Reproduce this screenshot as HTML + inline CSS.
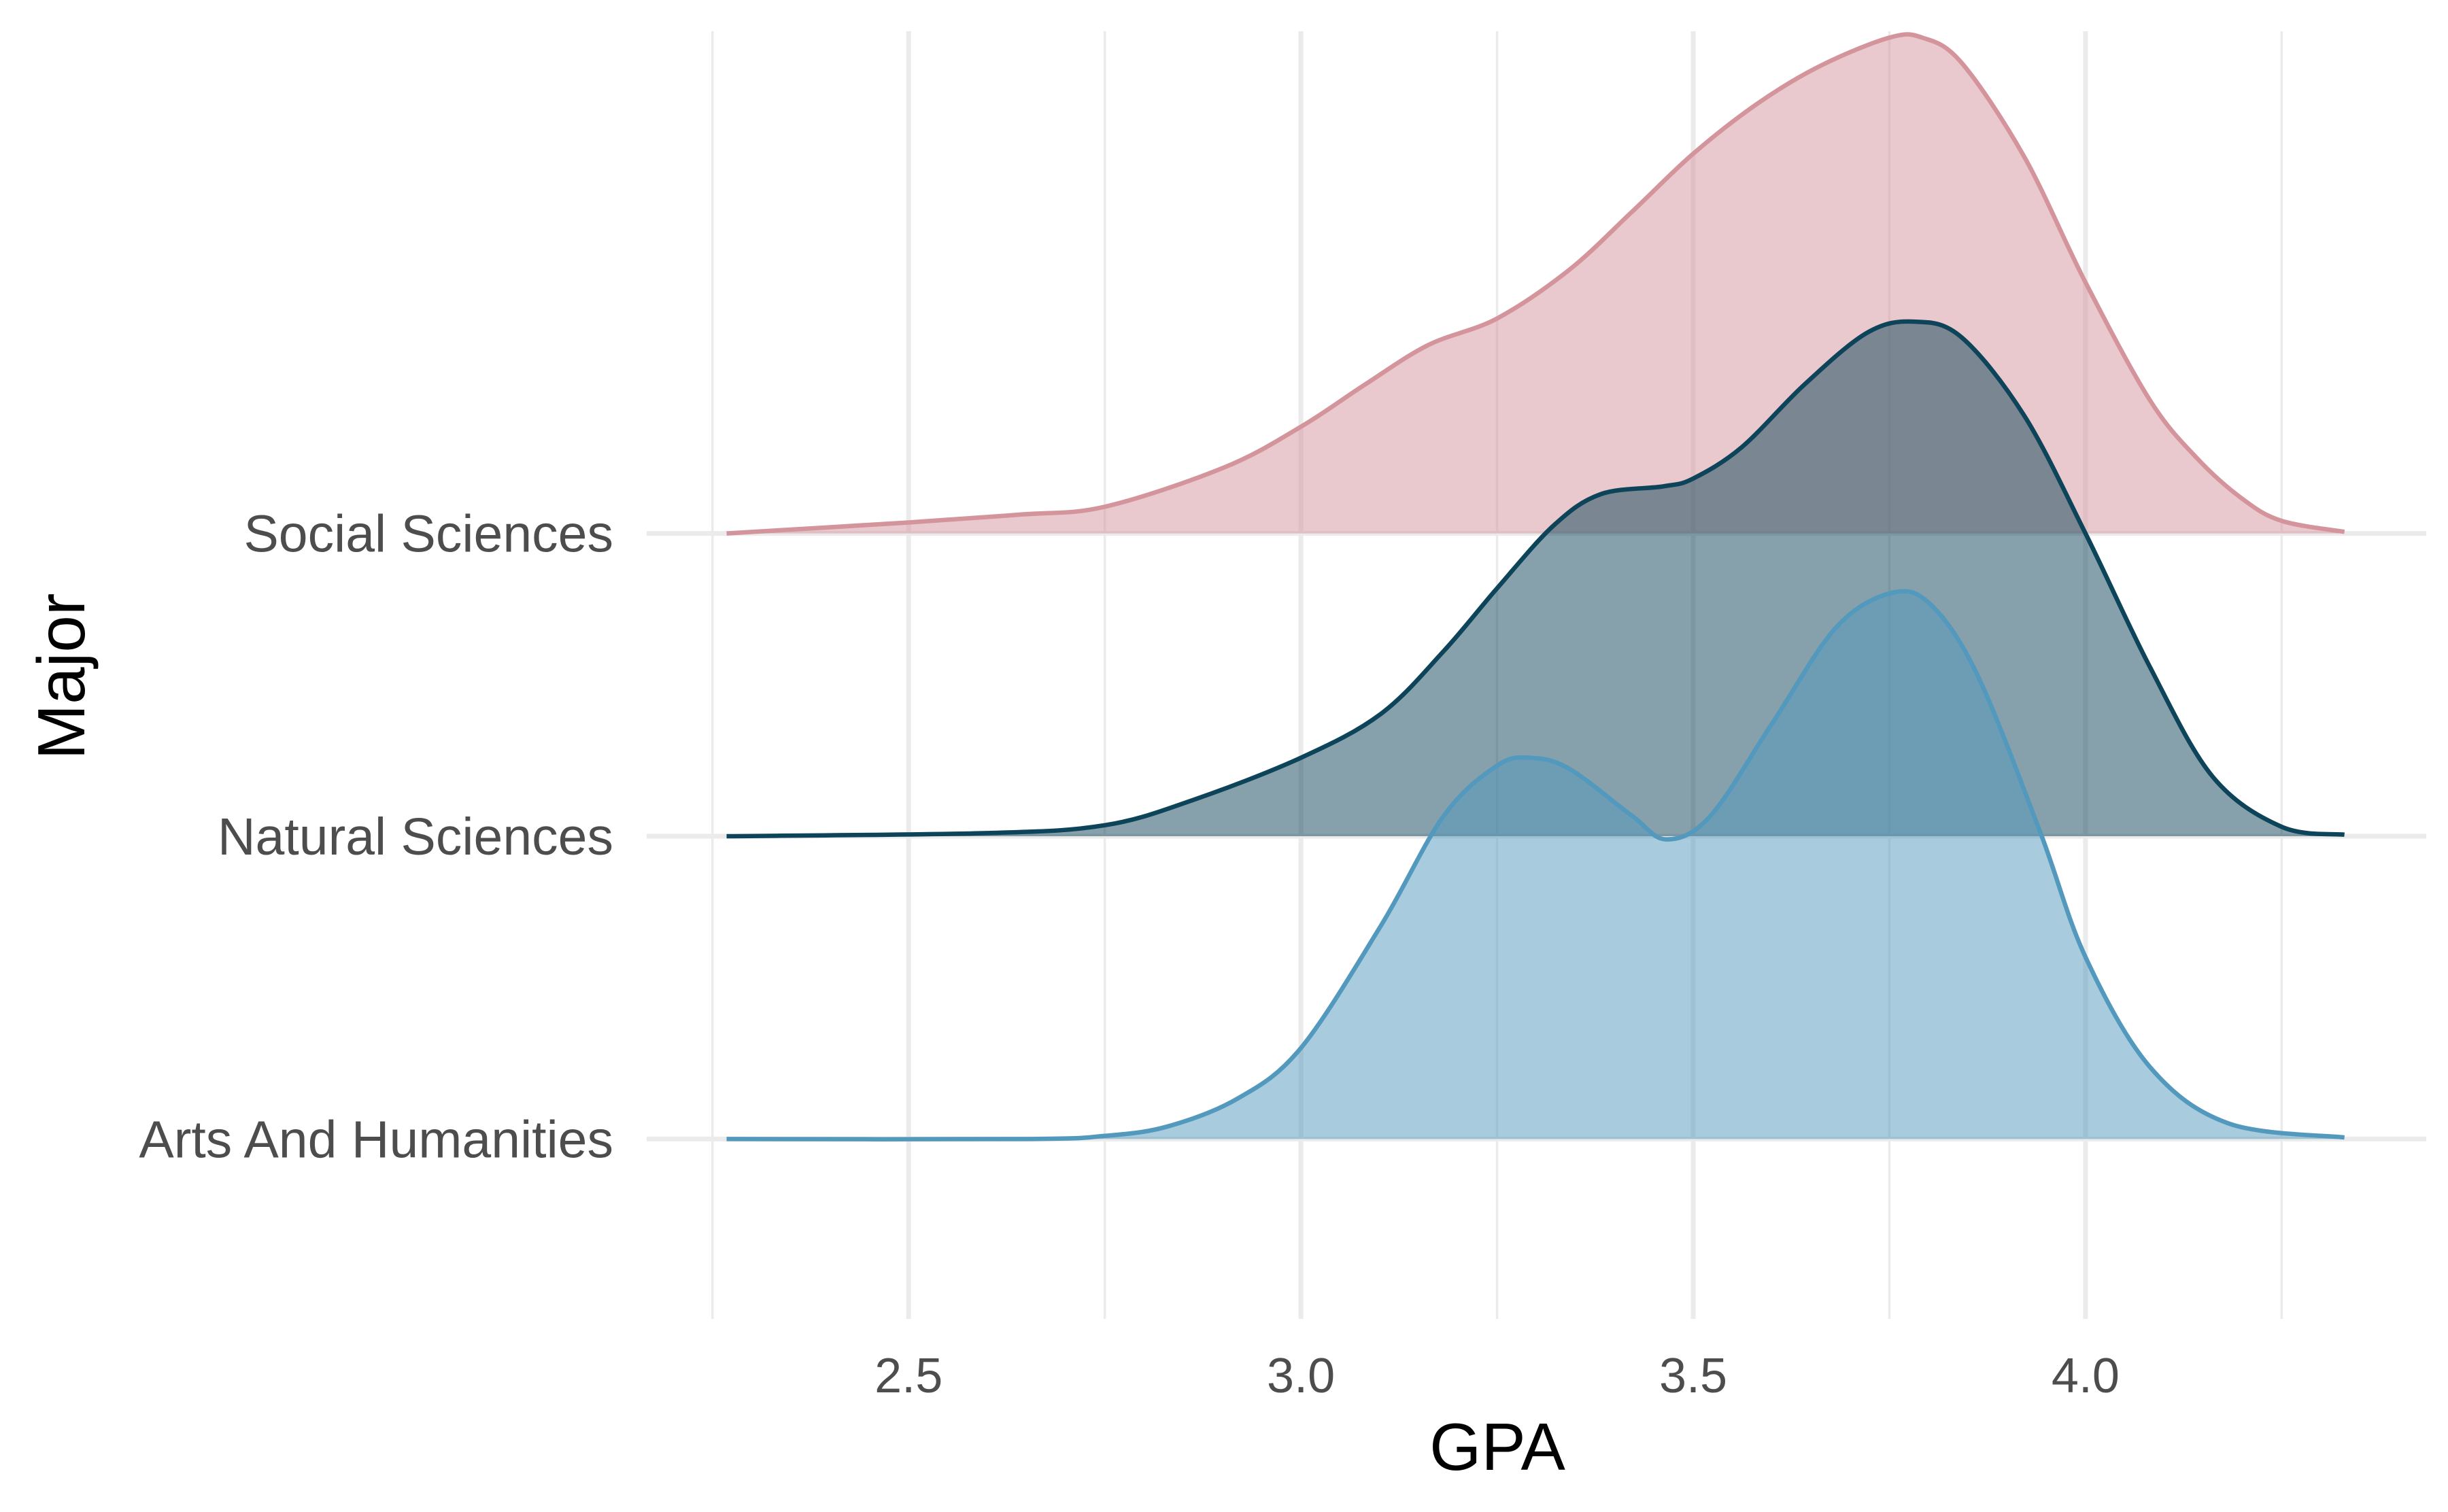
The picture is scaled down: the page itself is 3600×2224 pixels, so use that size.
<!DOCTYPE html>
<html><head><meta charset="utf-8"><style>
html,body{margin:0;padding:0;background:#fff;}
svg{display:block;font-family:"Liberation Sans",Arial,sans-serif;}
</style></head><body>
<svg id="chart" width="3600" height="2224" viewBox="0 0 3600 2224" xmlns="http://www.w3.org/2000/svg">
<g id="grid"></g>
<g id="ridges"></g>
<g id="xticks"></g>
<g id="yticks"></g>
<text x="2202" y="2162" font-size="98" text-anchor="middle" fill="#000">GPA</text>
<text x="124" y="995" font-size="98" text-anchor="middle" fill="#000" transform="rotate(-90 124 995)">Major</text>
</svg>
<script>
const categories = ["Arts And Humanities", "Natural Sciences", "Social Sciences"];
const xTicks = [2.5, 3.0, 3.5, 4.0];
const xTickLabels = ["2.5", "3.0", "3.5", "4.0"];
const xMinor = [2.25, 2.75, 3.25, 3.75, 4.25];
const socialGpa = [2.268,2.5,2.642,2.75,2.902,3.0,3.082,3.162,3.25,3.342,3.422,3.5,3.582,3.662,3.75,3.792,3.842,3.922,4.0,4.082,4.142,4.2,4.25,4.33];
const socialDens = [0,7,12,17,42,68,95,120,137,168,205,242,274,298,316,316,300,240,160,85,48,22,8,1];
const naturalGpa = [2.268,2.6,2.75,2.862,3.0,3.102,3.182,3.25,3.322,3.382,3.462,3.5,3.562,3.642,3.722,3.782,3.842,3.922,4.0,4.082,4.162,4.25,4.33];
const naturalDens = [0,2,7,23,50,78,118,158,198,218,223,228,248,288,321,328,318,268,193,108,38,6,1];
const artsGpa = [2.268,2.65,2.75,2.83,2.92,3.0,3.102,3.182,3.25,3.292,3.342,3.422,3.466,3.522,3.602,3.682,3.752,3.802,3.862,3.942,4.0,4.082,4.182,4.33];
const artsDens = [0,0,2,8,26,58,136,206,238,243,236,206,191,206,266,326,348,341,296,196,116,46,10,1];
const series = [
  {name:"social-sciences", cat:2, gpa:socialGpa, dens:socialDens, line:"#d4949b"},
  {name:"natural-sciences", cat:1, gpa:naturalGpa, dens:naturalDens, line:"#0d4459"},
  {name:"arts-and-humanities", cat:0, gpa:artsGpa, dens:artsDens, line:"#5299bd"}
];
const NS="http://www.w3.org/2000/svg";
const xScale = g => 1336.2 + (g-2.5)*1153.8;
const yBase = i => 1675.4 - i*445.4;
const hScale = d => d*2.3077;
function mk(tag, attrs, parent){const e=document.createElementNS(NS,tag);for(const k in attrs)e.setAttribute(k,attrs[k]);parent.appendChild(e);return e;}
const grid=document.getElementById('grid');
xMinor.forEach(v=>{const l=mk('line',{x1:xScale(v),x2:xScale(v),y1:46,y2:1940,stroke:'#ebebeb','stroke-width':3.5},grid);

});
xTicks.forEach(v=>{const l=mk('line',{x1:xScale(v),x2:xScale(v),y1:46,y2:1940,stroke:'#ebebeb','stroke-width':7},grid);

});
categories.forEach((c,i)=>{const l=mk('line',{x1:951,x2:3568,y1:yBase(i),y2:yBase(i),stroke:'#ebebeb','stroke-width':7},grid);

});
const ridges=document.getElementById('ridges');
function smooth(pts){let d=`M${pts[0][0]},${pts[0][1]}`;for(let i=0;i<pts.length-1;i++){const p0=pts[Math.max(i-1,0)],p1=pts[i],p2=pts[i+1],p3=pts[Math.min(i+2,pts.length-1)];
const c1=[p1[0]+(p2[0]-p0[0])/6,p1[1]+(p2[1]-p0[1])/6],c2=[p2[0]-(p3[0]-p1[0])/6,p2[1]-(p3[1]-p1[1])/6];d+=` C${c1[0]},${c1[1]} ${c2[0]},${c2[1]} ${p2[0]},${p2[1]}`;}return d;}
series.forEach(s=>{const b=yBase(s.cat);const pts=s.gpa.map((g,k)=>[xScale(g),b-hScale(s.dens[k])]);const d=smooth(pts);
const g=mk('g',{},ridges);


const f=mk('path',{d:d+` L${pts[pts.length-1][0]},${b} L${pts[0][0]},${b} Z`,fill:s.line,'fill-opacity':0.5,stroke:'none'},g);


const l=mk('path',{d:d,fill:'none',stroke:s.line,'stroke-width':6.5},g);

});
const xt=document.getElementById('xticks');
xTicks.forEach((v,i)=>{const t=mk('text',{x:xScale(v),y:2048,'font-size':72,'text-anchor':'middle',fill:'#4d4d4d'},xt);t.textContent=xTickLabels[i];

});
const yt=document.getElementById('yticks');
categories.forEach((c,i)=>{const t=mk('text',{x:902,y:yBase(i)+27,'font-size':77,'text-anchor':'end',fill:'#4d4d4d'},yt);t.textContent=c;

});
</script>
</body></html>
